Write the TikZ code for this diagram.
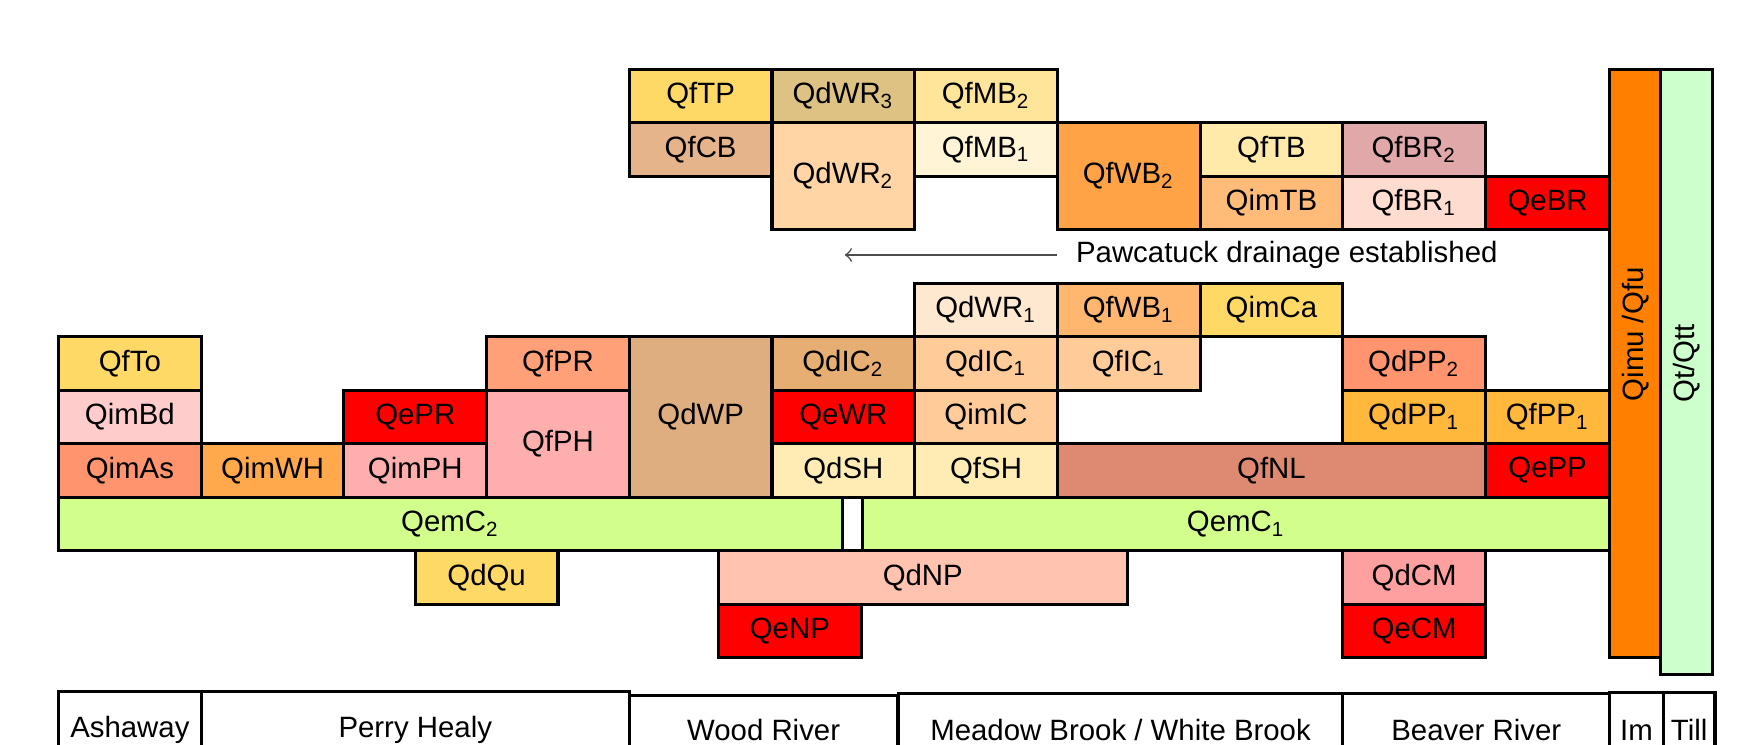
\documentclass[tikz,border=0pt]{standalone}
\usepackage{fontspec}
\setmainfont{Liberation Sans}

% Cores das unidades
\definecolor{amarelo}{HTML}{FFD966}
\definecolor{bege}{HTML}{DEC283}
\definecolor{amareloclaro}{HTML}{FFE599}
\definecolor{marromclaro}{HTML}{E6B48A}
\definecolor{pessego}{HTML}{FFD5A5}
\definecolor{creme}{HTML}{FFF4D6}
\definecolor{laranja}{HTML}{FFA346}
\definecolor{palha}{HTML}{FFEAAA}
\definecolor{rosaescuro}{HTML}{E0A8A8}
\definecolor{laranjaclaro}{HTML}{FFBC78}
\definecolor{rosaclaro}{HTML}{FFDCD0}
\definecolor{vermelho}{HTML}{FF0000}
\definecolor{laranjaforte}{HTML}{FF7F00}
\definecolor{verdeclaro}{HTML}{CCFFCC}
\definecolor{salmaoclaro}{HTML}{FFE8D0}
\definecolor{laranjamedio}{HTML}{FFB770}
\definecolor{rosa}{HTML}{FFCCCC}
\definecolor{salmao}{HTML}{FF946E}
\definecolor{abobora}{HTML}{FFA84C}
\definecolor{rosamedio}{HTML}{FFAEAE}
\definecolor{coral}{HTML}{FFA078}
\definecolor{marrom}{HTML}{DEAE80}
\definecolor{caramelo}{HTML}{E6AE73}
\definecolor{baunilha}{HTML}{FFECB4}
\definecolor{damasco}{HTML}{FFCC99}
\definecolor{terracota}{HTML}{DE8A73}
\definecolor{ambar}{HTML}{FFB73C}
\definecolor{lima}{HTML}{D2FF8C}
\definecolor{pessegoclaro}{HTML}{FFC3AF}
\definecolor{rosaforte}{HTML}{FFA0A0}

\begin{document}
\begin{tikzpicture}[x=1.28cm, y=-0.48cm, line width=0.8pt,
    font=\fontsize{7.5}{9}\selectfont,
    bloco/.style={draw, rectangle, anchor=north west, outer sep=0pt, inner sep=0pt,
      minimum width=1.28cm, minimum height=0.48cm},
    rodape/.style={draw, rectangle, anchor=north west, outer sep=0pt, inner sep=0pt, fill=white}]
    \useasboundingbox (-0.41016,-1.29167) rectangle (11.83984,12.625);

    % Blocos de cima
    \node[bloco, fill=amarelo] (QfTP) at (4,0) {QfTP};
    \node[bloco, fill=bege] (QdWR3) at (5,0) {QdWR\textsubscript{3}};
    \node[bloco, fill=amareloclaro] (QfMB2) at (6,0) {QfMB\textsubscript{2}};
    \node[bloco, fill=marromclaro] (QfCB) at (4,1) {QfCB};
    \node[bloco, fill=pessego, minimum height=0.96cm] (QdWR2) at (5,1) {QdWR\textsubscript{2}};
    \node[bloco, fill=creme] (QfMB1) at (6,1) {QfMB\textsubscript{1}};
    \node[bloco, fill=laranja, minimum height=0.96cm] (QfWB2) at (7,1) {QfWB\textsubscript{2}};
    \node[bloco, fill=palha] (QfTB) at (8,1) {QfTB};
    \node[bloco, fill=rosaescuro] (QfBR2) at (9,1) {QfBR\textsubscript{2}};
    \node[bloco, fill=laranjaclaro] (QimTB) at (8,2) {QimTB};
    \node[bloco, fill=rosaclaro] (QfBR1) at (9,2) {QfBR\textsubscript{1}};
    \node[bloco, fill=vermelho, minimum width=1.115cm] (QeBR) at (10,2) {QeBR};

    % Seta da drenagem
    \node[anchor=west, inner sep=0pt] (drenagem) at (7.12,3.473) {Pawcatuck drainage established};
    \coordinate (fimseta) at (5.51,3.473);
    \draw[->, line width=0.4pt, black!70, shorten <=0.16cm] (drenagem.west) -- (fimseta);

    % Blocos de baixo
    \node[bloco, fill=salmaoclaro] (QdWR1) at (6,4) {QdWR\textsubscript{1}};
    \node[bloco, fill=laranjamedio] (QfWB1) at (7,4) {QfWB\textsubscript{1}};
    \node[bloco, fill=amarelo] (QimCa) at (8,4) {QimCa};

    \node[bloco, fill=amarelo] (QfTo) at (0,5) {QfTo};
    \node[bloco, fill=coral] (QfPR) at (3,5) {QfPR};
    \node[bloco, fill=marrom, minimum height=1.44cm] (QdWP) at (4,5) {QdWP};
    \node[bloco, fill=caramelo] (QdIC2) at (5,5) {QdIC\textsubscript{2}};
    \node[bloco, fill=damasco] (QdIC1) at (6,5) {QdIC\textsubscript{1}};
    \node[bloco, fill=damasco] (QfIC1) at (7,5) {QfIC\textsubscript{1}};
    \node[bloco, fill=salmao] (QdPP2) at (9,5) {QdPP\textsubscript{2}};

    \node[bloco, fill=rosa] (QimBd) at (0,6) {QimBd};
    \node[bloco, fill=vermelho] (QePR) at (2,6) {QePR};
    \node[bloco, fill=rosamedio, minimum height=0.96cm] (QfPH) at (3,6) {QfPH};
    \node[bloco, fill=vermelho] (QeWR) at (5,6) {QeWR};
    \node[bloco, fill=damasco] (QimIC) at (6,6) {QimIC};
    \node[bloco, fill=ambar] (QdPP1) at (9,6) {QdPP\textsubscript{1}};
    \node[bloco, fill=ambar, minimum width=1.115cm] (QfPP1) at (10,6) {QfPP\textsubscript{1}};

    \node[bloco, fill=salmao] (QimAs) at (0,7) {QimAs};
    \node[bloco, fill=abobora] (QimWH) at (1,7) {QimWH};
    \node[bloco, fill=rosamedio] (QimPH) at (2,7) {QimPH};
    \node[bloco, fill=baunilha] (QdSH) at (5,7) {QdSH};
    \node[bloco, fill=baunilha] (QfSH) at (6,7) {QfSH};
    \node[bloco, fill=terracota, minimum width=3.84cm] (QfNL) at (7,7) {QfNL};
    \node[bloco, fill=vermelho, minimum width=1.115cm] (QePP) at (10,7) {QePP};

    \node[bloco, fill=lima, minimum width=7.03cm] (QemC2) at (0,8) {QemC\textsubscript{2}};
    \node[bloco, fill=lima, minimum width=6.705cm] (QemC1) at (5.633,8) {QemC\textsubscript{1}};

    \node[bloco, fill=amarelo] (QdQu) at (2.5,9) {QdQu};
    \node[bloco, fill=pessegoclaro, minimum width=3.665cm] (QdNP) at (4.625,9) {QdNP};
    \node[bloco, fill=rosaforte] (QdCM) at (9,9) {QdCM};
    \node[bloco, fill=vermelho] (QeNP) at (4.625,10) {QeNP};
    \node[bloco, fill=vermelho] (QeCM) at (9,10) {QeCM};

    % Barras verticais
    \node[bloco, fill=laranjaforte, minimum width=0.457cm, minimum height=5.28cm] (Qimu) at (10.871,0) {};
    \node[bloco, fill=verdeclaro, minimum width=0.467cm, minimum height=5.43cm] (Qt) at (11.228,0) {};
    \node[rotate=90] (txtQimu) at (11.05,4.958) {Qimu /Qfu};
    \node[rotate=90] (txtQt) at (11.41,5.5) {Qt/Qtt};

    % Linha dos rios embaixo
    \node[rodape, minimum width=1.28cm, minimum height=0.7cm] (Ashaway) at (0,11.625) {Ashaway};
    \node[rodape, minimum width=3.84cm, minimum height=0.7cm] (Perry) at (1,11.625) {Perry Healy};
    \node[rodape, minimum width=2.41cm, minimum height=0.618cm] (Wood) at (4,11.71) {Wood River};
    \node[rodape, minimum width=3.99cm, minimum height=0.657cm] (Meadow) at (5.884,11.67) {Meadow Brook / White Brook};
    \node[rodape, minimum width=2.395cm, minimum height=0.657cm] (Beaver) at (9,11.67) {Beaver River};
    \node[rodape, minimum width=0.48cm, minimum height=0.676cm] (Im) at (10.871,11.65) {Im};
    \node[rodape, minimum width=0.464cm, minimum height=0.676cm] (Till) at (11.246,11.65) {Till};
\end{tikzpicture}
\end{document}
